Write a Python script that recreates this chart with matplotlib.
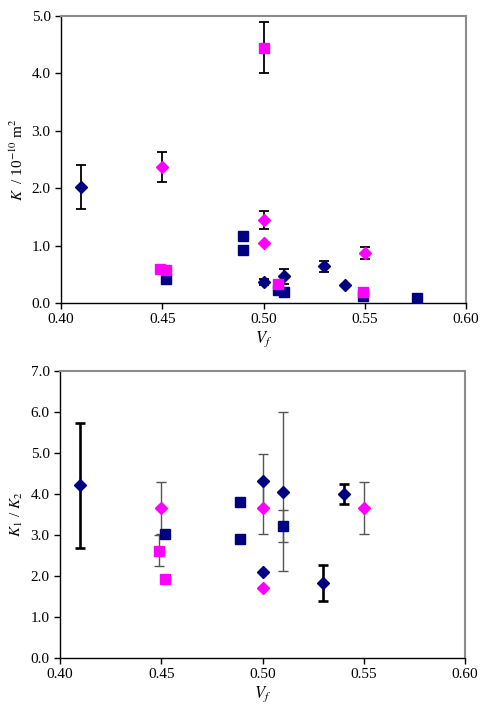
import matplotlib
matplotlib.use("Agg")
import matplotlib.pyplot as plt
import numpy as np

plt.rcParams['font.family'] = ['Liberation Serif', 'DejaVu Serif']
plt.rcParams['mathtext.fontset'] = 'stix'

NAVY = '#000080'
PINK = '#FF00FF'

# ---------------- top panel: permeability K ----------------
top_navy_dia_x = [0.41, 0.50, 0.51, 0.53, 0.54]
top_navy_dia_y = [2.02, 0.37, 0.47, 0.64, 0.32]
top_navy_dia_err = [0.38, 0.05, 0.13, 0.10, 0.0]

top_navy_sq_x = [0.452, 0.49, 0.49, 0.507, 0.51, 0.549, 0.576]
top_navy_sq_y = [0.42, 1.17, 0.93, 0.22, 0.20, 0.12, 0.08]

top_pink_dia_x = [0.45, 0.50, 0.50, 0.55]
top_pink_dia_y = [2.37, 1.45, 1.05, 0.87]
top_pink_dia_err = [0.26, 0.16, 0.0, 0.10]

top_pink_sq_x = [0.50, 0.449, 0.452, 0.507, 0.549]
top_pink_sq_y = [4.45, 0.59, 0.57, 0.33, 0.19]
top_pink_sq_err = [0.45, 0.0, 0.0, 0.0, 0.0]

# ---------------- bottom panel: anisotropy K1/K2 ----------------
bot_navy_dia_x = [0.41, 0.50, 0.51, 0.53, 0.54, 0.50]
bot_navy_dia_y = [4.21, 4.31, 4.06, 1.84, 4.00, 2.10]
bot_navy_dia_err = [1.52, 0.67, 1.94, 0.44, 0.24, 0.0]
bot_navy_dia_thick = [True, False, False, True, True, False]

bot_navy_sq_x = [0.452, 0.489, 0.489, 0.51]
bot_navy_sq_y = [3.02, 3.80, 2.90, 3.21]
bot_navy_sq_err = [0.0, 0.0, 0.0, 0.39]

bot_pink_dia_x = [0.45, 0.50, 0.55, 0.50]
bot_pink_dia_y = [3.66, 3.66, 3.66, 1.70]
bot_pink_dia_err = [0.63, 0.64, 0.63, 0.0]

bot_pink_sq_x = [0.449, 0.452]
bot_pink_sq_y = [2.62, 1.92]
bot_pink_sq_err = [0.37, 0.0]

xticks = [0.40, 0.45, 0.50, 0.55, 0.60]

fig = plt.figure(figsize=(4.85, 7.07), dpi=100)
ax1 = fig.add_axes([0.1258, 0.5714, 0.8352, 0.4060])
ax2 = fig.add_axes([0.1237, 0.0693, 0.8351, 0.4059])


def errs(ax, x, y, e, color='black', lw=1.3, thick=None):
    for i, (xi, yi, ei) in enumerate(zip(x, y, e)):
        if ei <= 0:
            continue
        c, w = color, lw
        if thick is not None:
            c, w = ('black', 1.9) if thick[i] else ('#555555', 1.0)
        ax.errorbar([xi], [yi], yerr=[ei], fmt='none', ecolor=c,
                    elinewidth=w, capsize=3.5, capthick=w, zorder=2)


def style(ax, ymax, ystep):
    ax.set_xlim(0.40, 0.60)
    ax.set_ylim(0, ymax)
    ax.set_xticks(xticks)
    ax.set_xticklabels([f"{t:.2f}" for t in xticks])
    yt = np.arange(0, ymax + 0.001, ystep)
    ax.set_yticks(yt)
    ax.set_yticklabels([f"{t:.1f}" for t in yt])
    ax.tick_params(direction='out', length=4, width=1, labelsize=11,
                   colors='black')
    for s in ['left', 'bottom']:
        ax.spines[s].set_color('black')
        ax.spines[s].set_linewidth(1.0)
    for s in ['top', 'right']:
        ax.spines[s].set_color('#8c8c8c')
        ax.spines[s].set_linewidth(1.5)
    ax.set_xlabel(r'$V_f$', fontsize=12, labelpad=2)


# top panel
errs(ax1, top_navy_dia_x, top_navy_dia_y, top_navy_dia_err)
errs(ax1, top_pink_dia_x, top_pink_dia_y, top_pink_dia_err)
errs(ax1, top_pink_sq_x, top_pink_sq_y, top_pink_sq_err)
ax1.plot(top_navy_sq_x, top_navy_sq_y, 's', color=NAVY, ms=7.5, zorder=3)
ax1.plot(top_navy_dia_x, top_navy_dia_y, 'D', color=NAVY, ms=6, zorder=3)
ax1.plot(top_pink_sq_x, top_pink_sq_y, 's', color=PINK, ms=7.5, zorder=3)
ax1.plot(top_pink_dia_x, top_pink_dia_y, 'D', color=PINK, ms=6, zorder=3)
style(ax1, 5.0, 1.0)
ax1.set_ylabel(r'$K$  / 10$^{-10}$ m$^{2}$', fontsize=11, labelpad=4)

# bottom panel
errs(ax2, bot_navy_dia_x, bot_navy_dia_y, bot_navy_dia_err, thick=bot_navy_dia_thick)
errs(ax2, bot_pink_dia_x, bot_pink_dia_y, bot_pink_dia_err, color='#555555', lw=1.0)
errs(ax2, bot_navy_sq_x, bot_navy_sq_y, bot_navy_sq_err, color='#555555', lw=1.0)
errs(ax2, bot_pink_sq_x, bot_pink_sq_y, bot_pink_sq_err, color='#555555', lw=1.0)
ax2.plot(bot_navy_sq_x, bot_navy_sq_y, 's', color=NAVY, ms=7.5, zorder=3)
ax2.plot(bot_navy_dia_x, bot_navy_dia_y, 'D', color=NAVY, ms=6, zorder=3)
ax2.plot(bot_pink_sq_x, bot_pink_sq_y, 's', color=PINK, ms=7.5, zorder=3)
ax2.plot(bot_pink_dia_x, bot_pink_dia_y, 'D', color=PINK, ms=6, zorder=3)
style(ax2, 7.0, 1.0)
ax2.set_ylabel(r'$K_1$ / $K_2$', fontsize=11, labelpad=4)

fig.savefig('out.png', dpi=100)
